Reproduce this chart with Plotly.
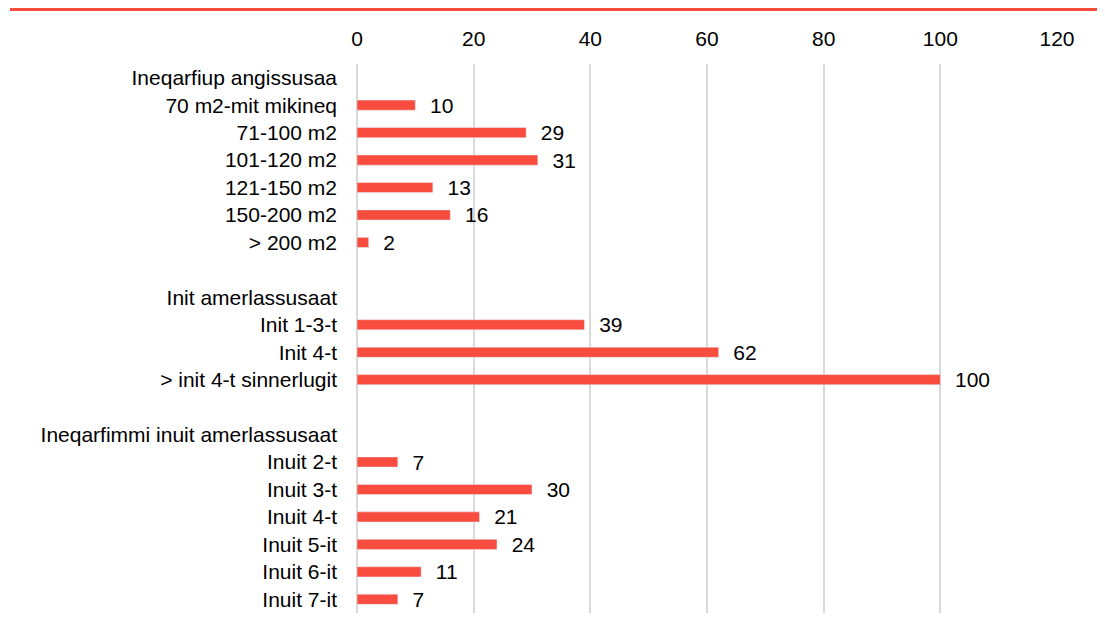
import plotly.graph_objects as go

categories = [
    "Ineqarfiup angissusaa", "70 m2-mit mikineq", "71-100 m2", "101-120 m2",
    "121-150 m2", "150-200 m2", "> 200 m2", " ",
    "Init amerlassusaat", "Init 1-3-t", "Init 4-t", "> init 4-t sinnerlugit", "  ",
    "Ineqarfimmi inuit amerlassusaat", "Inuit 2-t", "Inuit 3-t", "Inuit 4-t",
    "Inuit 5-it", "Inuit 6-it", "Inuit 7-it",
]
values = [None, 10, 29, 31, 13, 16, 2, None,
          None, 39, 62, 100, None,
          None, 7, 30, 21, 24, 11, 7]
x_ticks = [0, 20, 40, 60, 80, 100, 120]

red = "#F84D3E"
labels = ["  " + str(v) if v is not None else "" for v in values]

fig = go.Figure(go.Bar(
    x=values, y=categories, orientation="h",
    marker_color=red, width=0.37,
    text=labels, textposition="outside", cliponaxis=False,
    constraintext="none",
    textfont=dict(size=21, color="#000000"),
))

# page body adds an 8px offset, so the figure is 8px smaller on each side
fig.update_layout(
    width=1097, height=633,
    margin=dict(l=349, r=48, t=56, b=28),
    plot_bgcolor="white", paper_bgcolor="white",
    font=dict(family="Liberation Sans, Arial, sans-serif", size=21, color="#000000"),
    showlegend=False,
    xaxis=dict(
        side="top", range=[0, 120], tickvals=x_ticks,
        showgrid=True, gridcolor="#D9D9D9", gridwidth=1.5,
        zeroline=True, zerolinecolor="#D9D9D9", zerolinewidth=1.5,
        showline=False, ticks="", ticklabelstandoff=13,
    ),
    yaxis=dict(
        categoryorder="array", categoryarray=categories,
        autorange="reversed", showgrid=False, showline=False,
        ticks="", ticklabelstandoff=19,
    ),
    shapes=[dict(
        type="line", xref="paper", yref="paper",
        x0=(2 - 349) / 700, x1=(1097 - 349) / 700,
        y0=(549 + 56 - 1) / 549, y1=(549 + 56 - 1) / 549,
        line=dict(color=red, width=4),
    )],
)

fig.write_html("out.html")
